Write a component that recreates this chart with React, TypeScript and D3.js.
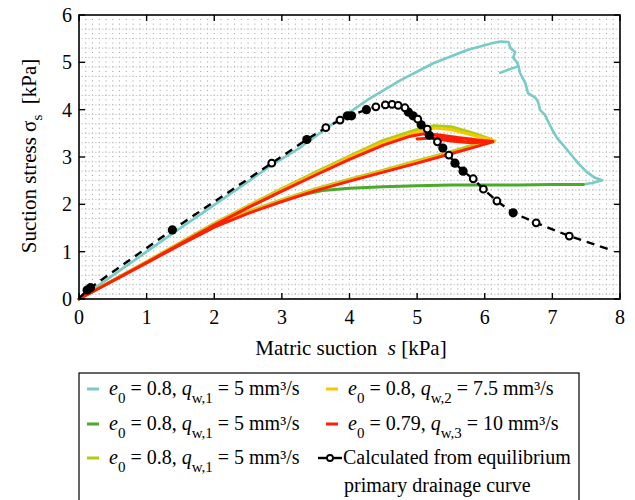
import React from "react";
import * as d3 from "d3";

type P = [number, number];

const xTicks = [0, 1, 2, 3, 4, 5, 6, 7, 8];
const yTicks = [0, 1, 2, 3, 4, 5, 6];

// e0 = 0.8, qw,1 = 5 mm³/s (cyan)
const cyanCurve: P[] = [
  [0, 0], [0.1, 0.1], [0.5, 0.5], [1, 1.0], [1.38, 1.38], [2, 1.99], [2.5, 2.48],
  [2.85, 2.83], [3.27, 3.2], [3.76, 3.71], [4.26, 4.2], [4.75, 4.62], [5.24, 4.98],
  [5.74, 5.26], [6.12, 5.41], [6.23, 5.44], [6.35, 5.43], [6.38, 5.3], [6.45, 5.22],
  [6.42, 5.1], [6.48, 4.99], [6.5, 4.92], [6.23, 4.78], [6.5, 4.92], [6.52, 4.78],
  [6.6, 4.56], [6.64, 4.35], [6.75, 4.25], [6.79, 4.16], [6.82, 3.99], [6.89, 3.89],
  [6.94, 3.74], [7.0, 3.57], [7.07, 3.4], [7.16, 3.25], [7.26, 3.08], [7.38, 2.87],
  [7.51, 2.68], [7.63, 2.56], [7.74, 2.51], [7.59, 2.45], [7.49, 2.43],
];

// e0 = 0.8, qw,1 = 5 mm³/s (dark green)
const greenCurve: P[] = [
  [0, 0], [0.5, 0.39], [1, 0.78], [1.5, 1.16], [2, 1.53], [2.5, 1.83], [3, 2.07],
  [3.3, 2.2], [3.6, 2.29], [4, 2.34], [4.5, 2.37], [5, 2.39], [5.5, 2.41], [6, 2.41],
  [6.5, 2.41], [7, 2.42], [7.46, 2.42],
];

// e0 = 0.8, qw,1 = 5 mm³/s (yellow-green)
const limeCurve: P[] = [
  [0, 0], [1, 0.79], [2, 1.6], [2.5, 1.97], [3, 2.33], [3.5, 2.68], [4, 3.02],
  [4.5, 3.35], [5, 3.58], [5.25, 3.66], [5.5, 3.64], [5.8, 3.52], [6.1, 3.37],
  [5.5, 3.11], [5, 2.92], [4.5, 2.72], [4, 2.53], [3.5, 2.33], [3, 2.1], [2.5, 1.85],
  [2, 1.56], [1, 0.79], [0, 0],
];

// e0 = 0.8, qw,2 = 7.5 mm³/s (yellow)
const yellowCurve: P[] = [
  [0, 0], [1, 0.78], [2, 1.58], [2.5, 1.95], [3, 2.31], [3.5, 2.65], [4, 2.99],
  [4.5, 3.31], [5, 3.53], [5.25, 3.61], [5.5, 3.58], [5.8, 3.47], [6.15, 3.34],
  [5.5, 3.09], [5, 2.9], [4.5, 2.7], [4, 2.51], [3.5, 2.31], [3, 2.08], [2.5, 1.83],
  [2, 1.54], [1, 0.78], [0, 0],
];

// e0 = 0.79, qw,3 = 10 mm³/s (red)
const redCurve: P[] = [
  [0, 0], [1, 0.77], [2, 1.56], [2.5, 1.93], [3, 2.28], [3.5, 2.62], [4, 2.95],
  [4.5, 3.25], [4.9, 3.44], [5.1, 3.49], [5.3, 3.47], [5.6, 3.41], [5.9, 3.36],
  [6.12, 3.33], [5.8, 3.3], [5.5, 3.34], [5.2, 3.4], [5.0, 3.38], [5.3, 3.41],
  [5.7, 3.33], [6.12, 3.32],
  [5.5, 3.07], [5, 2.87], [4.5, 2.68], [4, 2.49], [3.5, 2.29], [3, 2.06], [2.5, 1.81],
  [2, 1.52], [1.5, 1.15], [1, 0.76], [0, 0],
];

// Calculated from equilibrium primary drainage curve
const calcCurve: P[] = [
  [0, 0.02], [0.15, 0.22], [1.38, 1.46], [2.85, 2.87], [3.37, 3.37], [3.65, 3.62],
  [3.86, 3.78], [4.0, 3.87], [4.25, 4.0], [4.39, 4.06], [4.53, 4.1], [4.63, 4.11],
  [4.72, 4.09], [4.82, 4.04], [4.87, 3.95], [4.94, 3.87], [5.01, 3.8], [5.06, 3.68],
  [5.15, 3.59], [5.18, 3.46], [5.3, 3.32], [5.38, 3.19], [5.47, 3.04], [5.56, 2.87],
  [5.68, 2.7], [5.83, 2.54], [5.98, 2.32], [6.18, 2.07], [6.42, 1.82], [6.76, 1.61],
  [7.25, 1.33], [7.88, 1.03],
];
const calcOpen: P[] = [
  [2.85, 2.87], [3.65, 3.62], [3.86, 3.78], [4.39, 4.06], [4.53, 4.1], [4.63, 4.11],
  [4.72, 4.09], [4.82, 4.04], [5.01, 3.8], [5.15, 3.59], [5.3, 3.32], [5.47, 3.04],
  [5.83, 2.54], [5.98, 2.32], [6.18, 2.07], [6.76, 1.61], [7.25, 1.33],
];
const calcFilled: P[] = [
  [0.12, 0.19], [0.17, 0.24], [1.38, 1.46], [3.37, 3.37], [3.97, 3.87], [4.03, 3.87],
  [4.25, 4.0], [4.87, 3.95], [4.94, 3.87], [5.06, 3.68], [5.18, 3.46], [5.38, 3.19],
  [5.56, 2.87], [5.68, 2.7], [6.42, 1.82],
];

const C_CYAN = "#78cbc8";
const C_GREEN = "#4aaa2a";
const C_LIME = "#b0cc10";
const C_YELLOW = "#f6c800";
const C_RED = "#ff1e00";

const FONT = "'Liberation Serif', 'DejaVu Serif', serif";

export default function App() {
  const x = d3.scaleLinear().domain([0, 8]).range([79, 620]);
  const y = d3.scaleLinear().domain([0, 6]).range([299, 15]);
  const line = d3.line<P>().x((d) => x(d[0])).y((d) => y(d[1]));

  const gridX = d3.range(1, 80).map((i) => i / 10);
  const gridY = d3.range(1, 30).map((i) => i / 5 - 0.1);
  const [x0, x1] = x.range();
  const [y0, y1] = y.range();

  const legendItems = [
    { c: C_CYAN, sub: "w,1", e: "0.8", q: "5", lx: 87, tx: 109, row: 0 },
    { c: C_GREEN, sub: "w,1", e: "0.8", q: "5", lx: 87, tx: 109, row: 1 },
    { c: C_LIME, sub: "w,1", e: "0.8", q: "5", lx: 87, tx: 109, row: 2 },
    { c: C_YELLOW, sub: "w,2", e: "0.8", q: "7.5", lx: 326, tx: 348, row: 0 },
    { c: C_RED, sub: "w,3", e: "0.79", q: "10", lx: 326, tx: 348, row: 1 },
  ];
  const rowBase = [395, 430, 464];

  return (
    <svg
      width={635}
      height={500}
      style={{ position: "absolute", left: 0, top: 0, display: "block" }}
      fontFamily={FONT}
    >
      <rect width={635} height={500} fill="#fff" />
      {/* grid */}
      <g stroke="#9a9a9a" strokeWidth={1}>
        {gridX.map((v) => (
          <line key={"gx" + v} x1={x(v)} x2={x(v)} y1={y0} y2={y1} strokeDasharray="1,3.73" />
        ))}
        {gridY.map((v) => (
          <line key={"gy" + v} x1={x0} x2={x1} y1={y(v)} y2={y(v)} strokeDasharray="1.5,1.88" strokeDashoffset={-2.6} stroke="#c4c4c4" />
        ))}
      </g>
      {/* data curves */}
      <g fill="none" strokeLinejoin="round" strokeLinecap="round">
        <path d={line(cyanCurve) || ""} stroke={C_CYAN} strokeWidth={2.6} />
        <path d={line(greenCurve) || ""} stroke={C_GREEN} strokeWidth={3} />
        <path d={line(limeCurve) || ""} stroke={C_LIME} strokeWidth={3} />
        <path d={line(yellowCurve) || ""} stroke={C_YELLOW} strokeWidth={3} />
        <path d={line(redCurve) || ""} stroke={C_RED} strokeWidth={3} />
        <path d={line(calcCurve) || ""} stroke="#000" strokeWidth={2.4} strokeDasharray="8,6" strokeLinecap="butt" />
      </g>
      <g>
        {calcFilled.map((d, i) => (
          <circle key={"f" + i} cx={x(d[0])} cy={y(d[1])} r={4.6} fill="#000" />
        ))}
        {calcOpen.map((d, i) => (
          <circle key={"o" + i} cx={x(d[0])} cy={y(d[1])} r={3.4} fill="#fff" stroke="#000" strokeWidth={2} />
        ))}
      </g>
      {/* frame and ticks */}
      <rect x={x0} y={y1} width={x1 - x0} height={y0 - y1} fill="none" stroke="#000" strokeWidth={1.6} />
      <g stroke="#000" strokeWidth={1.4}>
        {xTicks.map((t) => (
          <g key={"xt" + t}>
            <line x1={x(t)} x2={x(t)} y1={y0} y2={y0 - 6} />
            <line x1={x(t)} x2={x(t)} y1={y1} y2={y1 + 6} />
          </g>
        ))}
        {yTicks.map((t) => (
          <g key={"yt" + t}>
            <line x1={x0} x2={x0 + 6} y1={y(t)} y2={y(t)} />
            <line x1={x1} x2={x1 - 6} y1={y(t)} y2={y(t)} />
          </g>
        ))}
      </g>
      <g fontSize={20} fill="#000">
        {xTicks.map((t) => (
          <text key={"xl" + t} x={x(t)} y={324} textAnchor="middle">{t}</text>
        ))}
        {yTicks.map((t) => (
          <text key={"yl" + t} x={72} y={y(t) + 7} textAnchor="end">{t}</text>
        ))}
      </g>
      {/* axis titles */}
      <text x={351} y={355} textAnchor="middle" fontSize={21} style={{ whiteSpace: "pre" }}>
        {"Matric suction  "}<tspan fontStyle="italic">s</tspan>{" [kPa]"}
      </text>
      <text transform="translate(36,156) rotate(-90)" textAnchor="middle" fontSize={21} style={{ whiteSpace: "pre" }}>
        Suction stress σ<tspan dy={6} fontSize={15}>s</tspan><tspan dy={-6}>{"  [kPa]"}</tspan>
      </text>
      {/* legend */}
      <rect x={79} y={373} width={500} height={150} fill="#fff" stroke="#000" strokeWidth={1.2} />
      {legendItems.map((it, i) => (
        <g key={"lg" + i}>
          <line x1={it.lx} x2={it.lx + 12} y1={rowBase[it.row] - 6} y2={rowBase[it.row] - 6} stroke={it.c} strokeWidth={3} />
          <text x={it.tx} y={rowBase[it.row]} fontSize={20}>
            <tspan fontStyle="italic">e</tspan>
            <tspan dy={8} fontSize={15}>0</tspan>
            <tspan dy={-8}>{` = ${it.e}, `}</tspan>
            <tspan fontStyle="italic">q</tspan>
            <tspan dy={8} fontSize={15}>{it.sub}</tspan>
            <tspan dy={-8}>{` = ${it.q} mm³/s`}</tspan>
          </text>
        </g>
      ))}
      <line x1={318} x2={342} y1={458} y2={458} stroke="#000" strokeWidth={2.4} />
      <circle cx={330} cy={458} r={3} fill="#fff" stroke="#000" strokeWidth={1.8} />
      <text x={343} y={464} fontSize={20}>Calculated from equilibrium</text>
      <text x={344} y={492} fontSize={20}>primary drainage curve</text>
    </svg>
  );
}
